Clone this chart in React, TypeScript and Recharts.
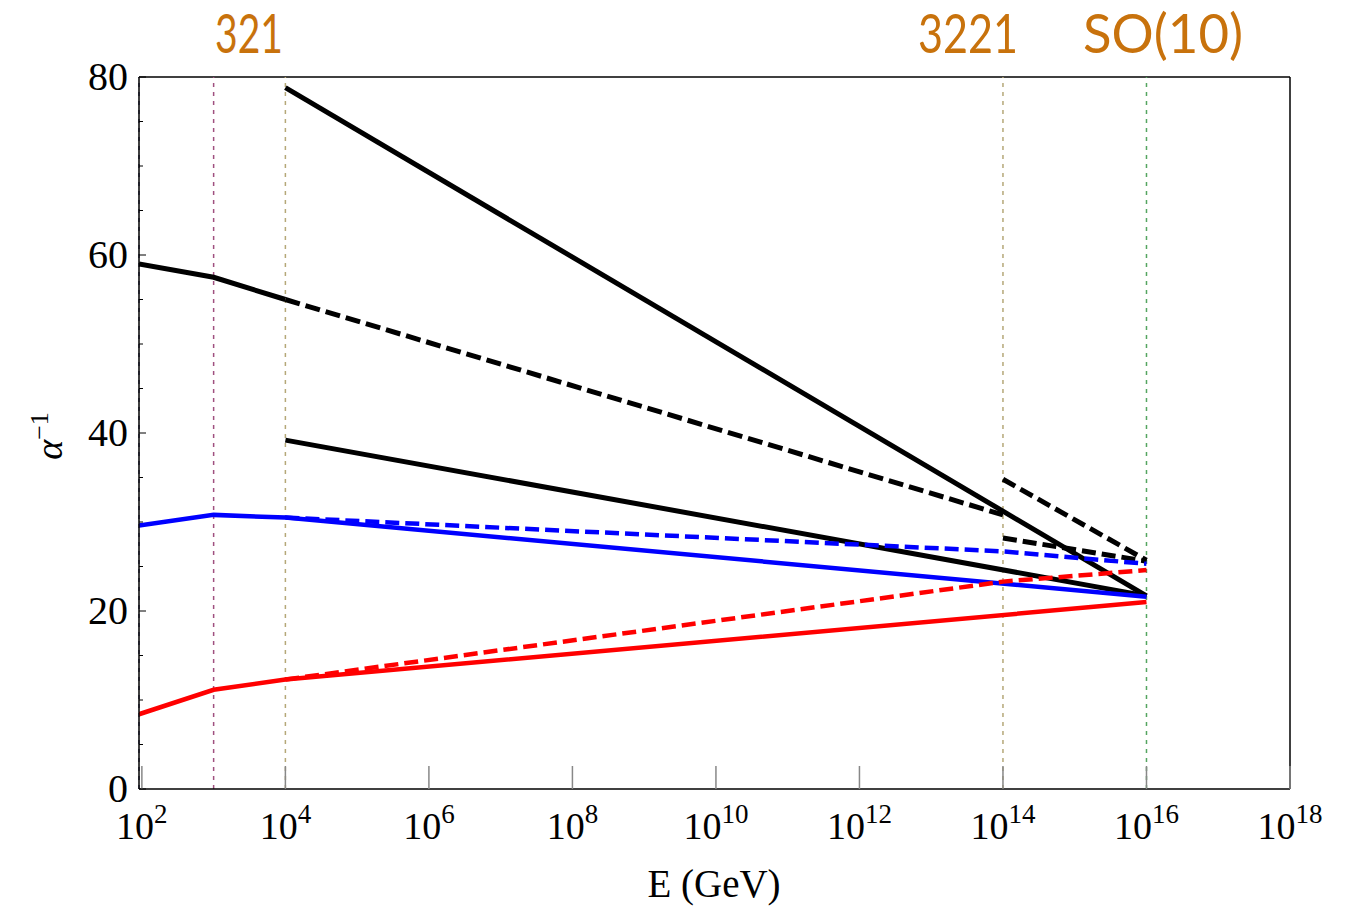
import React from 'react'
import { LineChart, Line, XAxis, YAxis, ReferenceLine } from 'recharts'

// log10(E / GeV) breakpoints and inverse couplings along each running curve
const mZ = 1.96
const curveU1Top: [number, number][] = [[4, 78.8], [16, 21.7]]
const curveBL: [number, number][] = [[mZ, 59.0], [3, 57.5], [4, 55.0]]
const curveBLDashed: [number, number][] = [[4, 55.0], [14, 30.8]]
const curveR: [number, number][] = [[4, 39.2], [16, 21.7]]
const curveHighA: [number, number][] = [[14, 34.8], [16, 25.7]]
const curveHighB: [number, number][] = [[14, 28.2], [16, 25.6]]
const curveL: [number, number][] = [[mZ, 29.6], [3, 30.8], [4, 30.5], [16, 21.6]]
const curveLDashed: [number, number][] = [[4, 30.5], [14, 26.7], [16, 25.3]]
const curveC: [number, number][] = [[mZ, 8.4], [3, 11.15], [4, 12.3], [16, 21.0]]
const curveCDashed: [number, number][] = [[4, 12.3], [14, 23.3], [16, 24.6]]

const xTicks = [2, 4, 6, 8, 10, 12, 14, 16, 18]
const yTicks = Array.from({ length: 17 }, (_, i) => i * 5)
const scaleLines: { x: number; color: string }[] = [
  { x: mZ, color: '#55557f' },
  { x: 3, color: '#a0507f' },
  { x: 4, color: '#b5a878' },
  { x: 14, color: '#b5a878' },
  { x: 16, color: '#55a560' },
]

const toRows = (pts: [number, number][]) => pts.map(([x, y]) => ({ x, y }))

const serif = 'Liberation Serif, Times New Roman, serif'

function XTick({ x, y, payload }: any) {
  return (
    <g>
      <line x1={x} x2={x} y1={y} y2={y - 23} stroke="#888" strokeWidth={1.5} />
      <text x={x} y={y + 50} textAnchor="middle" fontFamily={serif} fontSize={38} fill="#000">
        10<tspan dy={-16} fontSize={27}>{payload.value}</tspan>
      </text>
    </g>
  )
}

function YTick({ x, y, payload }: any) {
  const major = payload.value % 20 === 0
  return (
    <g>
      <line x1={x} x2={x + (major ? 7 : 4)} y1={y} y2={y} stroke="#000" strokeWidth={1} />
      {major && (
        <text x={x - 11} y={y + 13} textAnchor="end" fontFamily={serif} fontSize={40} fill="#000">
          {payload.value}
        </text>
      )}
    </g>
  )
}

export default function App() {
  const series = [
    { pts: curveU1Top, color: '#000', dash: undefined, w: 5 },
    { pts: curveBL, color: '#000', dash: undefined, w: 5 },
    { pts: curveBLDashed, color: '#000', dash: '15 6', w: 5 },
    { pts: curveR, color: '#000', dash: undefined, w: 5 },
    { pts: curveHighA, color: '#000', dash: '14 6', w: 5 },
    { pts: curveHighB, color: '#000', dash: '14 6', w: 5 },
    { pts: curveLDashed, color: '#0000ff', dash: '14 6', w: 4.5 },
    { pts: curveL, color: '#0000ff', dash: undefined, w: 4.5 },
    { pts: curveCDashed, color: '#ff0000', dash: '14 6', w: 4.5 },
    { pts: curveC, color: '#ff0000', dash: undefined, w: 4.5 },
  ]

  return (
    <div style={{ position: 'absolute', left: 0, top: 0, width: 1354, height: 907, background: '#fff' }}>
      <LineChart width={1354} height={907} margin={{ top: 77, right: 64, bottom: 38, left: 39 }}>
        <XAxis
          type="number"
          dataKey="x"
          domain={[mZ, 18]}
          ticks={xTicks}
          interval={0}
          allowDataOverflow
          height={80}
          tickSize={0}
          tickMargin={0}
          tickLine={false}
          tick={<XTick />}
          axisLine={{ stroke: '#000', strokeWidth: 1.5 }}
        />
        <YAxis
          type="number"
          domain={[0, 80]}
          ticks={yTicks}
          interval={0}
          width={100}
          tickSize={0}
          tickMargin={0}
          tickLine={false}
          tick={<YTick />}
          axisLine={{ stroke: '#000', strokeWidth: 1.5 }}
        />
        <ReferenceLine y={80} stroke="#000" strokeWidth={1.5} />
        <ReferenceLine x={18} stroke="#000" strokeWidth={1.5} />
        {scaleLines.map((s) => (
          <ReferenceLine key={s.x} x={s.x} stroke={s.color} strokeWidth={1.5} strokeDasharray="4 5" />
        ))}
        {series.map((s, i) => (
          <Line
            key={i}
            data={toRows(s.pts)}
            dataKey="y"
            type="linear"
            stroke={s.color}
            strokeWidth={s.w}
            strokeDasharray={s.dash}
            dot={false}
            activeDot={false}
            isAnimationActive={false}
          />
        ))}
      </LineChart>
      <svg width={1354} height={907} style={{ position: 'absolute', left: 0, top: 0, pointerEvents: 'none' }}>
        <g fontFamily="Lato, Open Sans, sans-serif" fontSize={54} fill="#c8720c" textAnchor="middle">
          <text x={249} y={53} textLength={68} lengthAdjust="spacingAndGlyphs">321</text>
          <text x={968} y={53} textLength={100} lengthAdjust="spacingAndGlyphs">3221</text>
          <text x={1163} y={53} textLength={160} lengthAdjust="spacingAndGlyphs">SO(10)</text>
        </g>
        <text x={714} y={897} textAnchor="middle" fontFamily={serif} fontSize={39} fill="#000">
          E (GeV)
        </text>
        <text
          x={62}
          y={436}
          transform="rotate(-90 62 436)"
          textAnchor="middle"
          fontFamily={serif}
          fontSize={38}
          fill="#000"
        >
          <tspan fontStyle="italic">α</tspan>
          <tspan dy={-14} fontSize={26}>−1</tspan>
        </text>
      </svg>
    </div>
  )
}
